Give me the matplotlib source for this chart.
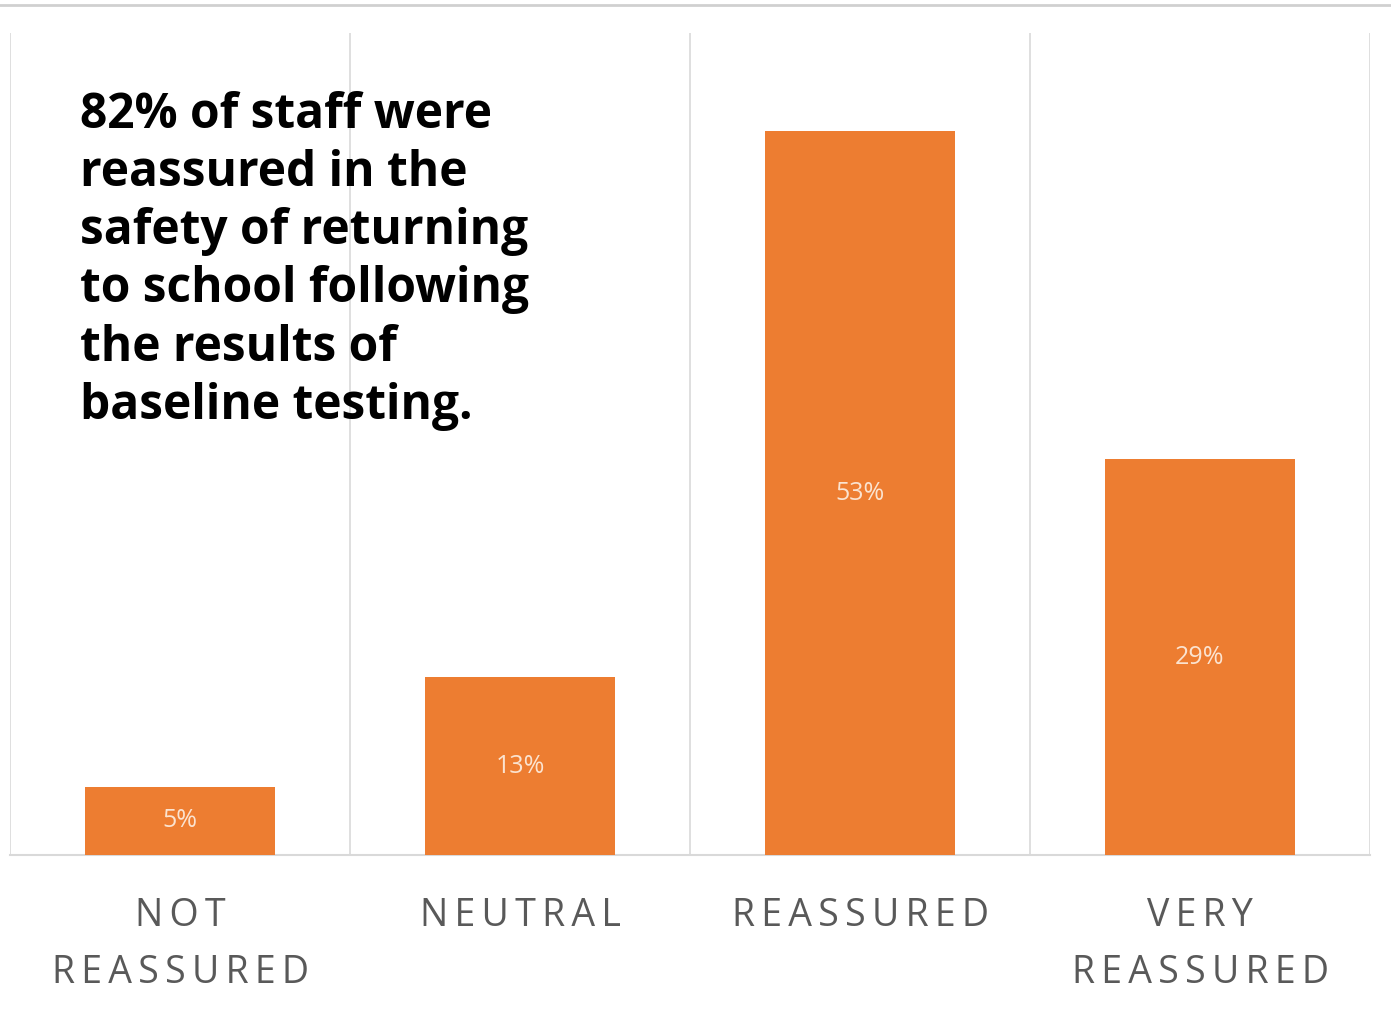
import matplotlib.pyplot as plt
import numpy as np

categories = ["NOT\nREASSURED", "NEUTRAL", "REASSURED", "VERY\nREASSURED"]
values = [5, 13, 53, 29]
value_labels = ["5%", "13%", "53%", "29%"]
note = ("82% of staff were\nreassured in the\nsafety of returning\n"
        "to school following\nthe results of\nbaseline testing.")


def spaced(label):
    # letter spacing with thin spaces, line by line
    return "\n".join("\u2009".join(line) for line in label.split("\n"))


fig = plt.figure(figsize=(13.91, 10.11), dpi=100)
ax = fig.add_axes([10 / 1391, 156 / 1011, 1360 / 1391, 822 / 1011])

x = np.arange(len(categories))
bars = ax.bar(x, values, width=0.556, color="#ED7D31", zorder=3)

# value labels inside bars
for b, lab in zip(bars, value_labels):
    ax.text(b.get_x() + b.get_width() / 2, b.get_height() / 2, lab,
            ha="center", va="center", color="#FBE3D0", fontsize=18,
            family="Open Sans", zorder=4)

ax.set_xlim(-0.5, len(categories) - 0.5)
ax.set_ylim(0, 60.2)

# category separators
for xb in np.arange(-0.5, len(categories), 1.0):
    ax.axvline(xb, color="#D9D9D9", lw=1.2, zorder=1)

for s in ["top", "left", "right"]:
    ax.spines[s].set_visible(False)
ax.spines["bottom"].set_color("#D9D9D9")
ax.spines["bottom"].set_linewidth(1.5)

ax.set_yticks([])
ax.set_xticks(x)
ax.set_xticklabels([spaced(c) for c in categories], fontsize=27, color="#595959",
                   family=["Open Sans", "DejaVu Sans"], linespacing=1.68)
ax.tick_params(axis="x", length=0, pad=30)

ax.text(70 / 1360, 0.93, note, transform=ax.transAxes,
        ha="left", va="top", fontsize=34.5, fontweight="bold", family="Open Sans",
        color="black", linespacing=1.25, zorder=5)

# thin gray line along the top
fig.add_artist(plt.Line2D([0, 1], [1 - 5 / 1011, 1 - 5 / 1011],
                          color="#D0D0D0", lw=2))

fig.savefig("out.png", dpi=100, facecolor="white")
